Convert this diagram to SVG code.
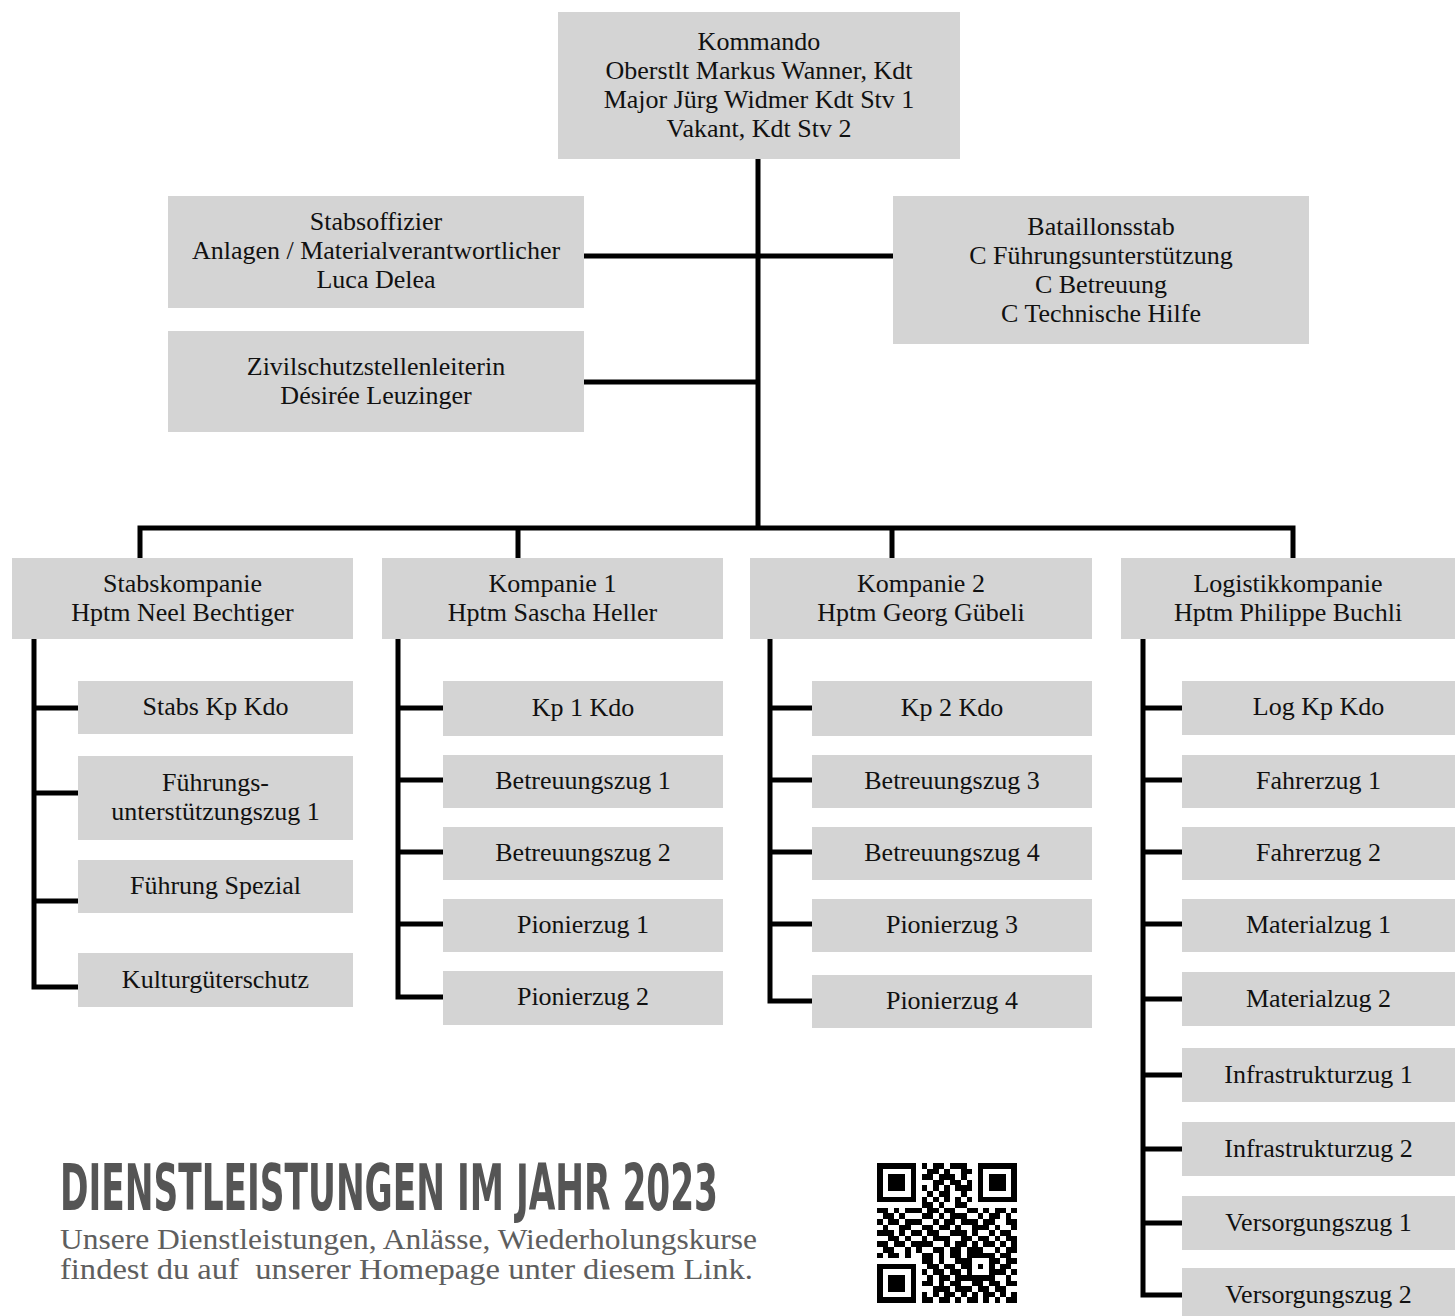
<svg xmlns="http://www.w3.org/2000/svg" width="1455" height="1316" viewBox="0 0 1455 1316">
<style>
.box{fill:#d4d4d4}
.t{font-family:"Liberation Serif","Times New Roman",serif;font-size:26px;fill:#111;text-anchor:middle}
.ln{stroke:#000;stroke-width:5;fill:none;stroke-linejoin:miter}
.h{font-family:"Liberation Sans Narrow","DejaVu Sans Condensed","Liberation Sans",sans-serif;font-weight:bold;font-size:64px;fill:#555}
.p{font-family:"Liberation Serif","Times New Roman",serif;font-size:30px;fill:#5e5e5e;white-space:pre}
</style>
<rect width="1455" height="1316" fill="#fff"/>
<g id="connectors" class="ln">
<path d="M758 159V528"/>
<path d="M140 558V528H1293V558"/>
<path d="M518 528V558M892 528V558"/>
<path d="M584 256H893M584 382H758"/>
<path d="M34 639V987H78M34 708H78M34 793H78M34 901H78"/>
<path d="M398 639V997H443M398 708H443M398 780H443M398 852H443M398 924H443"/>
<path d="M770 639V1001H812M770 708H812M770 780H812M770 852H812M770 924H812"/>
<path d="M1143 638V1295H1182M1143 708H1182M1143 780H1182M1143 852H1182M1143 924H1182M1143 999H1182M1143 1075H1182M1143 1149H1182M1143 1223H1182"/>
</g>
<g id="kommando"><rect class="box" x="558" y="12" width="402" height="147"/>
<text class="t" x="759" y="50">Kommando</text><text class="t" x="759" y="79">Oberstlt Markus Wanner, Kdt</text><text class="t" x="759" y="108">Major Jürg Widmer Kdt Stv 1</text><text class="t" x="759" y="137">Vakant, Kdt Stv 2</text></g>
<g id="stabsoffizier"><rect class="box" x="168" y="196" width="416" height="112"/>
<text class="t" x="376" y="230">Stabsoffizier</text><text class="t" x="376" y="259">Anlagen / Materialverantwortlicher</text><text class="t" x="376" y="288">Luca Delea</text></g>
<g id="zivilschutz"><rect class="box" x="168" y="331" width="416" height="101"/>
<text class="t" x="376" y="375">Zivilschutzstellenleiterin</text><text class="t" x="376" y="404">Désirée Leuzinger</text></g>
<g id="bataillonsstab"><rect class="box" x="893" y="196" width="416" height="148"/>
<text class="t" x="1101" y="235">Bataillonsstab</text><text class="t" x="1101" y="264">C Führungsunterstützung</text><text class="t" x="1101" y="293">C Betreuung</text><text class="t" x="1101" y="322">C Technische Hilfe</text></g>
<g id="stabskompanie"><rect class="box" x="12" y="558" width="341" height="81"/>
<text class="t" x="182.5" y="592">Stabskompanie</text><text class="t" x="182.5" y="621">Hptm Neel Bechtiger</text></g>
<g id="kompanie1"><rect class="box" x="382" y="558" width="341" height="81"/>
<text class="t" x="552.5" y="592">Kompanie 1</text><text class="t" x="552.5" y="621">Hptm Sascha Heller</text></g>
<g id="kompanie2"><rect class="box" x="750" y="558" width="342" height="81"/>
<text class="t" x="921" y="592">Kompanie 2</text><text class="t" x="921" y="621">Hptm Georg Gübeli</text></g>
<g id="logistikkompanie"><rect class="box" x="1121" y="558" width="334" height="81"/>
<text class="t" x="1288" y="592">Logistikkompanie</text><text class="t" x="1288" y="621">Hptm Philippe Buchli</text></g>
<g id="stabs-kp-kdo"><rect class="box" x="78" y="681" width="275" height="53"/><text class="t" x="215.5" y="715">Stabs Kp Kdo</text></g>
<g id="fu-zug-1"><rect class="box" x="78" y="756" width="275" height="84"/><text class="t" x="215.5" y="791">Führungs-</text><text class="t" x="215.5" y="820">unterstützungszug 1</text></g>
<g id="fuehrung-spezial"><rect class="box" x="78" y="860" width="275" height="53"/><text class="t" x="215.5" y="894">Führung Spezial</text></g>
<g id="kgs"><rect class="box" x="78" y="953" width="275" height="54"/><text class="t" x="215.5" y="988">Kulturgüterschutz</text></g>
<g id="kp1-kdo"><rect class="box" x="443" y="681" width="280" height="55"/><text class="t" x="583" y="716">Kp 1 Kdo</text></g>
<g id="betr-1"><rect class="box" x="443" y="755" width="280" height="53"/><text class="t" x="583" y="789">Betreuungszug 1</text></g>
<g id="betr-2"><rect class="box" x="443" y="827" width="280" height="53"/><text class="t" x="583" y="861">Betreuungszug 2</text></g>
<g id="pio-1"><rect class="box" x="443" y="899" width="280" height="53"/><text class="t" x="583" y="933">Pionierzug 1</text></g>
<g id="pio-2"><rect class="box" x="443" y="971" width="280" height="54"/><text class="t" x="583" y="1005">Pionierzug 2</text></g>
<g id="kp2-kdo"><rect class="box" x="812" y="681" width="280" height="55"/><text class="t" x="952" y="716">Kp 2 Kdo</text></g>
<g id="betr-3"><rect class="box" x="812" y="755" width="280" height="53"/><text class="t" x="952" y="789">Betreuungszug 3</text></g>
<g id="betr-4"><rect class="box" x="812" y="827" width="280" height="53"/><text class="t" x="952" y="861">Betreuungszug 4</text></g>
<g id="pio-3"><rect class="box" x="812" y="899" width="280" height="53"/><text class="t" x="952" y="933">Pionierzug 3</text></g>
<g id="pio-4"><rect class="box" x="812" y="975" width="280" height="53"/><text class="t" x="952" y="1009">Pionierzug 4</text></g>
<g id="log-kp-kdo"><rect class="box" x="1182" y="681" width="273" height="54"/><text class="t" x="1318.5" y="715">Log Kp Kdo</text></g>
<g id="fahr-1"><rect class="box" x="1182" y="755" width="273" height="53"/><text class="t" x="1318.5" y="789">Fahrerzug 1</text></g>
<g id="fahr-2"><rect class="box" x="1182" y="827" width="273" height="53"/><text class="t" x="1318.5" y="861">Fahrerzug 2</text></g>
<g id="mat-1"><rect class="box" x="1182" y="899" width="273" height="53"/><text class="t" x="1318.5" y="933">Materialzug 1</text></g>
<g id="mat-2"><rect class="box" x="1182" y="972" width="273" height="54"/><text class="t" x="1318.5" y="1007">Materialzug 2</text></g>
<g id="infra-1"><rect class="box" x="1182" y="1048" width="273" height="54"/><text class="t" x="1318.5" y="1083">Infrastrukturzug 1</text></g>
<g id="infra-2"><rect class="box" x="1182" y="1122" width="273" height="54"/><text class="t" x="1318.5" y="1157">Infrastrukturzug 2</text></g>
<g id="vers-1"><rect class="box" x="1182" y="1196" width="273" height="54"/><text class="t" x="1318.5" y="1231">Versorgungszug 1</text></g>
<g id="vers-2"><rect class="box" x="1182" y="1268" width="273" height="48"/><text class="t" x="1318.5" y="1303">Versorgungszug 2</text></g>
<g id="footer">
<text class="h" x="60" y="1210" textLength="658" lengthAdjust="spacingAndGlyphs">DIENSTLEISTUNGEN IM JAHR 2023</text>
<text class="p" x="60" y="1249" textLength="697" lengthAdjust="spacingAndGlyphs">Unsere Dienstleistungen, Anlässe, Wiederholungskurse</text>
<text class="p" x="60" y="1279" textLength="693" lengthAdjust="spacingAndGlyphs">findest du auf  unserer Homepage unter diesem Link.</text>
</g>
<g id="qr" transform="translate(877 1163) scale(5.6)" fill="#000" shape-rendering="crispEdges">
<path d="M0 0h7v1h-7zM8 0h1v1h-1zM10 0h2v1h-2zM13 0h3v1h-3zM18 0h7v1h-7z
M0 1h1v1h-1zM6 1h1v1h-1zM9 1h2v1h-2zM12 1h1v1h-1zM15 1h2v1h-2zM18 1h1v1h-1zM24 1h1v1h-1z
M0 2h1v1h-1zM2 2h3v1h-3zM6 2h1v1h-1zM8 2h2v1h-2zM11 2h3v1h-3zM15 2h1v1h-1zM18 2h1v1h-1zM20 2h3v1h-3zM24 2h1v1h-1z
M0 3h1v1h-1zM2 3h3v1h-3zM6 3h1v1h-1zM10 3h2v1h-2zM13 3h2v1h-2zM16 3h1v1h-1zM18 3h1v1h-1zM20 3h3v1h-3zM24 3h1v1h-1z
M0 4h1v1h-1zM2 4h3v1h-3zM6 4h1v1h-1zM8 4h1v1h-1zM10 4h1v1h-1zM12 4h1v1h-1zM14 4h3v1h-3zM18 4h1v1h-1zM20 4h3v1h-3zM24 4h1v1h-1z
M0 5h1v1h-1zM6 5h1v1h-1zM9 5h1v1h-1zM11 5h2v1h-2zM15 5h1v1h-1zM18 5h1v1h-1zM24 5h1v1h-1z
M0 6h7v1h-7zM8 6h1v1h-1zM10 6h1v1h-1zM12 6h1v1h-1zM14 6h1v1h-1zM16 6h1v1h-1zM18 6h7v1h-7z
M8 7h2v1h-2zM11 7h1v1h-1zM14 7h2v1h-2z
M0 8h2v1h-2zM3 8h1v1h-1zM5 8h3v1h-3zM9 8h2v1h-2zM12 8h2v1h-2zM16 8h2v1h-2zM19 8h1v1h-1zM21 8h2v1h-2zM24 8h1v1h-1z
M1 9h2v1h-2zM4 9h1v1h-1zM8 9h2v1h-2zM11 9h1v1h-1zM13 9h3v1h-3zM18 9h1v1h-1zM20 9h2v1h-2zM23 9h1v1h-1z
M0 10h1v1h-1zM2 10h2v1h-2zM5 10h3v1h-3zM10 10h1v1h-1zM12 10h2v1h-2zM15 10h3v1h-3zM19 10h2v1h-2zM23 10h2v1h-2z
M1 11h1v1h-1zM4 11h2v1h-2zM8 11h2v1h-2zM11 11h2v1h-2zM14 11h1v1h-1zM17 11h3v1h-3zM21 11h1v1h-1zM24 11h1v1h-1z
M0 12h3v1h-3zM4 12h1v1h-1zM6 12h2v1h-2zM9 12h2v1h-2zM13 12h3v1h-3zM17 12h1v1h-1zM20 12h1v1h-1zM22 12h2v1h-2z
M2 13h2v1h-2zM5 13h1v1h-1zM8 13h1v1h-1zM10 13h3v1h-3zM15 13h2v1h-2zM18 13h2v1h-2zM21 13h1v1h-1zM23 13h2v1h-2z
M0 14h2v1h-2zM3 14h2v1h-2zM6 14h4v1h-4zM12 14h1v1h-1zM14 14h2v1h-2zM17 14h1v1h-1zM19 14h2v1h-2zM22 14h1v1h-1zM24 14h1v1h-1z
M1 15h2v1h-2zM5 15h1v1h-1zM7 15h1v1h-1zM10 15h2v1h-2zM13 15h2v1h-2zM16 15h3v1h-3zM21 15h1v1h-1zM23 15h2v1h-2z
M0 16h1v1h-1zM2 16h2v1h-2zM5 16h1v1h-1zM8 16h2v1h-2zM11 16h1v1h-1zM13 16h2v1h-2zM16 16h5v1h-5zM22 16h2v1h-2z
M8 17h2v1h-2zM11 17h1v1h-1zM14 17h3v1h-3zM20 17h2v1h-2zM23 17h2v1h-2z
M0 18h7v1h-7zM9 18h2v1h-2zM12 18h2v1h-2zM15 18h2v1h-2zM18 18h1v1h-1zM20 18h1v1h-1zM22 18h2v1h-2z
M0 19h1v1h-1zM6 19h1v1h-1zM8 19h1v1h-1zM10 19h2v1h-2zM13 19h2v1h-2zM16 19h1v1h-1zM20 19h3v1h-3zM24 19h1v1h-1z
M0 20h1v1h-1zM2 20h3v1h-3zM6 20h1v1h-1zM9 20h1v1h-1zM11 20h2v1h-2zM14 20h7v1h-7zM23 20h1v1h-1z
M0 21h1v1h-1zM2 21h3v1h-3zM6 21h1v1h-1zM8 21h2v1h-2zM11 21h1v1h-1zM13 21h2v1h-2zM17 21h2v1h-2zM20 21h2v1h-2zM23 21h2v1h-2z
M0 22h1v1h-1zM2 22h3v1h-3zM6 22h1v1h-1zM10 22h3v1h-3zM14 22h3v1h-3zM18 22h2v1h-2zM21 22h2v1h-2z
M0 23h1v1h-1zM6 23h1v1h-1zM8 23h1v1h-1zM10 23h1v1h-1zM12 23h2v1h-2zM15 23h1v1h-1zM17 23h1v1h-1zM19 23h2v1h-2zM22 23h1v1h-1zM24 23h1v1h-1z
M0 24h7v1h-7zM8 24h2v1h-2zM11 24h2v1h-2zM14 24h1v1h-1zM16 24h2v1h-2zM19 24h1v1h-1zM21 24h1v1h-1zM23 24h2v1h-2z"/>
</g>
</svg>
